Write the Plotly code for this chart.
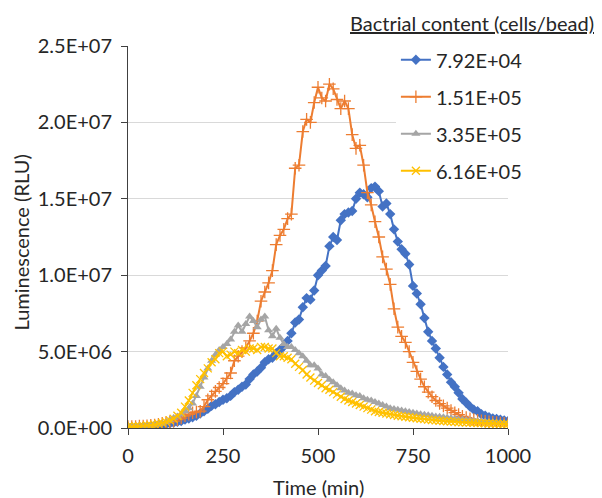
import plotly.graph_objects as go

time_min = list(range(0, 1001, 10))

# Luminescence values in RLU x 1e6
s_792e4 = [0.05, 0.05, 0.06, 0.07, 0.08, 0.1, 0.12, 0.15, 0.18, 0.2,
           0.25, 0.3, 0.35, 0.4, 0.45, 0.55, 0.62, 0.7, 0.8, 0.95,
           1.1, 1.25, 1.45, 1.55, 1.7, 1.85, 1.95, 2.1, 2.35, 2.5,
           2.7, 2.85, 3.2, 3.5, 3.7, 3.95, 4.3, 4.5, 4.6, 4.9,
           5.1, 5.35, 5.7, 6.2, 6.9, 7.1, 7.9, 8.5, 8.4, 9.0,
           10.0, 10.3, 10.6, 11.9, 12.5, 12.3, 13.6, 14.0, 14.1, 14.2,
           15.0, 15.4, 15.3, 15.1, 15.7, 15.8, 15.5, 14.5, 14.7, 14.0,
           13.0, 12.2, 11.7, 11.4, 10.7, 9.3, 8.8, 8.1, 7.2, 6.3,
           5.7, 5.2, 4.6, 4.0, 3.5, 3.0, 2.7, 2.3, 1.9, 1.65,
           1.4, 1.2, 1.1, 0.9, 0.8, 0.7, 0.63, 0.6, 0.55, 0.5, 0.45]
s_151e5 = [0.1, 0.1, 0.1, 0.12, 0.13, 0.15, 0.18, 0.2, 0.25, 0.3,
           0.35, 0.4, 0.45, 0.55, 0.65, 0.8, 0.9, 1.0, 1.05, 1.1,
           1.4, 1.85, 2.1, 2.4, 2.65, 2.9, 3.25, 3.6, 4.4, 4.7,
           5.0, 5.25, 5.7, 6.2, 7.0, 8.3, 8.9, 9.5, 10.3, 12.0,
           12.6, 13.0, 13.7, 14.0, 17.0, 17.2, 19.4, 20.2, 20.0, 21.3,
           22.3, 21.6, 21.4, 22.5, 22.2, 21.5, 20.9, 21.4, 20.9, 19.2,
           18.3, 18.5, 17.2, 15.4, 14.6, 13.5, 12.5, 11.2, 10.4, 9.4,
           7.8, 6.6, 6.0, 5.6, 5.0, 4.3, 3.7, 3.2, 2.7, 2.35,
           2.05, 1.8, 1.6, 1.45, 1.3, 1.15, 1.0, 0.88, 0.76, 0.68,
           0.6, 0.55, 0.5, 0.47, 0.44, 0.41, 0.38, 0.35, 0.32, 0.3, 0.28]
s_335e5 = [0.05, 0.05, 0.07, 0.08, 0.1, 0.12, 0.15, 0.2, 0.25, 0.3,
           0.4, 0.52, 0.65, 0.75, 0.9, 1.1, 1.3, 1.6, 2.1, 2.7,
           3.3, 3.9, 4.4, 4.8, 5.1, 5.3, 5.5, 5.8, 6.3, 6.7,
           6.3, 6.8, 7.3, 7.0, 6.6, 7.1, 7.3, 6.4, 6.0, 6.5,
           5.9, 5.5, 5.3, 5.3, 5.1, 4.9, 4.7, 4.4, 4.1, 4.1,
           3.9, 3.5, 3.4, 3.15, 3.0, 2.8, 2.6, 2.45, 2.3, 2.25,
           2.15, 2.1, 1.95, 1.85, 1.8, 1.7, 1.6, 1.5, 1.4, 1.3,
           1.25, 1.2, 1.15, 1.1, 1.05, 1.0, 0.95, 0.9, 0.87, 0.83,
           0.8, 0.76, 0.73, 0.7, 0.67, 0.64, 0.6, 0.58, 0.55, 0.52,
           0.5, 0.48, 0.46, 0.44, 0.42, 0.4, 0.38, 0.36, 0.34, 0.32, 0.3]
s_616e5 = [0.08, 0.08, 0.1, 0.12, 0.14, 0.16, 0.18, 0.22, 0.28, 0.33,
           0.4, 0.5, 0.6, 0.8, 1.0, 1.4, 1.8, 2.3, 2.8, 3.2,
           3.6, 3.9, 4.3, 4.5, 4.9, 5.0, 4.7, 4.8, 5.0, 4.9,
           5.1, 5.0, 5.2, 5.2, 5.1, 5.3, 5.3, 5.2, 5.2, 4.9,
           4.7, 4.7, 4.6, 4.5, 4.2, 4.0, 3.8, 3.5, 3.3, 3.1,
           2.95, 2.8, 2.6, 2.5, 2.35, 2.2, 2.05, 1.9, 1.8, 1.7,
           1.6, 1.5, 1.4, 1.3, 1.2, 1.1, 1.05, 1.0, 0.95, 0.9,
           0.85, 0.8, 0.77, 0.74, 0.7, 0.67, 0.64, 0.6, 0.58, 0.55,
           0.52, 0.5, 0.48, 0.46, 0.44, 0.42, 0.4, 0.38, 0.37, 0.36,
           0.35, 0.34, 0.33, 0.32, 0.31, 0.3, 0.29, 0.28, 0.27, 0.26, 0.25]

series_names = ["7.92E+04", "1.51E+05", "3.35E+05", "6.16E+05"]
series_values = [s_792e4, s_151e5, s_335e5, s_616e5]
colors = ["#4472C4", "#ED7D31", "#A5A5A5", "#FFC000"]
symbols = ["diamond", "cross-thin", "triangle-up", "x-thin"]
sizes = [8, 9, 8, 8]

y_ticks = [0, 5e6, 1e7, 1.5e7, 2e7, 2.5e7]
y_tick_labels = ["0.0E+00", "5.0E+06", "1.0E+07", "1.5E+07", "2.0E+07", "2.5E+07"]
x_ticks = [0, 250, 500, 750, 1000]

FONT = "Lato, 'Open Sans', sans-serif"
TXT = "#262626"
FS = 20

fig = go.Figure()
for i, (name, vals) in enumerate(zip(series_names, series_values)):
    thin = symbols[i] in ("cross-thin", "x-thin")
    fig.add_trace(go.Scatter(
        x=time_min, y=[v * 1e6 for v in vals], name=name,
        mode="lines+markers", legendgroup=f"g{i}",
        line=dict(color=colors[i], width=2),
        marker=dict(symbol=symbols[i], size=sizes[i], color=colors[i],
                    line=dict(color=colors[i], width=1.3 if thin else 0)),
    ))

fig.update_layout(
    width=602, height=498,
    margin=dict(l=120, r=102, t=38, b=78, autoexpand=False),
    paper_bgcolor="white", plot_bgcolor="white",
    font=dict(family=FONT, size=FS, color=TXT),
    showlegend=True,
    legend=dict(x=0.705, y=1.015, xanchor="left", yanchor="top",
                bgcolor="white", font=dict(size=FS, color=TXT),
                tracegroupgap=8, itemwidth=30),
    xaxis=dict(range=[0, 1000], tickvals=x_ticks, ticks="outside", ticklen=6,
               tickcolor="#404040", showline=True, linecolor="#404040", linewidth=1,
               showgrid=False, zeroline=False, automargin=False,
               tickfont=dict(size=FS), ticklabelstandoff=4),
    yaxis=dict(range=[0, 2.5e7], tickvals=y_ticks, ticktext=y_tick_labels,
               ticks="outside", ticklen=6, tickcolor="#404040",
               showline=True, linecolor="#404040", linewidth=1,
               showgrid=True, gridcolor="#D9D9D9", gridwidth=1, zeroline=False,
               automargin=False, tickfont=dict(size=FS), ticklabelstandoff=5),
    annotations=[
        dict(text="<u>Bactrial content (cells/bead)</u>", xref="paper", yref="paper",
             x=0.579, y=1.06, xanchor="left", yanchor="middle",
             showarrow=False, font=dict(size=FS, color=TXT)),
        dict(text="Time (min)", xref="paper", yref="paper",
             x=0.5, y=-0.154, xanchor="center", yanchor="middle",
             showarrow=False, font=dict(size=FS, color=TXT)),
        dict(text="Luminescence (RLU)", xref="paper", yref="paper",
             x=-0.281, y=0.486, xanchor="center", yanchor="middle", textangle=-90,
             showarrow=False, font=dict(size=FS, color=TXT)),
    ],
)

fig.write_html("out.html")
